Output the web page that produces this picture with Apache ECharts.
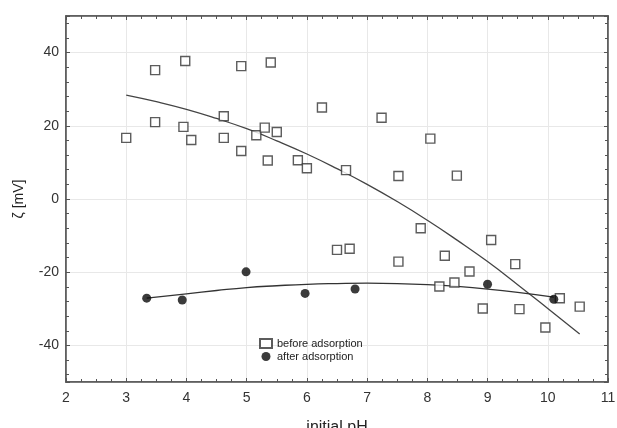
<!DOCTYPE html>
<html>
<head>
<meta charset="utf-8">
<script src="https://cdn.jsdelivr.net/npm/echarts@6/dist/echarts.min.js"></script>
<style>
html,body{margin:0;padding:0;background:#fff;}
#chart{width:617px;height:428px;}
</style>
</head>
<body>
<div id="chart"></div>
<script>
// before adsorption: [initial pH, zeta mV]
const beforeX = [3.0,3.48,3.48,3.98,3.95,4.08,4.91,4.62,4.62,4.91,5.40,5.16,5.30,5.50,5.35,5.85,6.0,6.25,6.65,
                 7.24,8.05,7.52,8.49,6.50,6.71,7.52,7.89,8.29,9.06,8.70,9.46,8.20,8.45,8.92,9.53,10.20,10.53,9.96];
const beforeY = [16.7,35.2,21.0,37.7,19.7,16.1,36.3,16.7,22.6,13.1,37.3,17.4,19.5,18.3,10.5,10.6,8.4,25.0,7.9,
                 22.2,16.5,6.3,6.4,-13.9,-13.6,-17.1,-8.0,-15.5,-11.2,-19.8,-17.8,-23.9,-22.8,-29.9,-30.1,-27.1,-29.4,-35.1];
// after adsorption
const afterX = [3.34,3.93,4.99,5.97,6.80,9.00,10.10];
const afterY = [-27.1,-27.6,-19.9,-25.8,-24.6,-23.3,-27.4];
// fitted curves
const beforeFitX = [3.0,3.5,4.0,4.5,5.0,5.5,6.0,6.5,7.0,7.5,8.0,8.5,9.0,9.5,10.0,10.53];
const beforeFitY = [28.4,26.6,24.5,22.0,19.2,15.9,12.3,8.3,4.0,-0.7,-5.8,-11.3,-17.1,-23.4,-29.9,-36.9];
const afterFitX = [3.34,4.0,4.5,5.0,5.5,6.0,6.5,7.0,7.5,8.0,8.5,9.0,9.5,10.1];
const afterFitY = [-27.1,-25.9,-25.0,-24.2,-23.7,-23.3,-23.1,-23.0,-23.1,-23.4,-23.9,-24.6,-25.5,-26.8];
const xTicks = {min:2, max:11, interval:1};
const yRange = {min:-50, max:50};
const legendNames = ['before adsorption','after adsorption'];

const zip = (a,b) => a.map((v,i)=>[v,b[i]]);
const font = 'Liberation Sans, Arial, sans-serif';
const axisCol = '#555';
const chart = echarts.init(document.getElementById('chart'));
const commonX = {
  type:'value', min:xTicks.min, max:xTicks.max, interval:xTicks.interval,
  axisLine:{show:true, onZero:false, lineStyle:{color:axisCol, width:1.5}},
  axisTick:{show:true, inside:true, length:4, lineStyle:{color:axisCol}},
  minorTick:{show:true, splitNumber:4, length:3, lineStyle:{color:axisCol}},
};
const commonY = {
  type:'value', min:yRange.min, max:yRange.max, splitNumber:5, minInterval:20, maxInterval:20,
  axisLine:{show:true, onZero:false, lineStyle:{color:axisCol, width:1.5}},
  axisTick:{show:true, inside:true, length:4, lineStyle:{color:axisCol}},
  minorTick:{show:true, splitNumber:5, length:3, lineStyle:{color:axisCol}},
};
chart.setOption({
  animation:false,
  backgroundColor:'#fff',
  textStyle:{fontFamily:font},
  grid:{left:66, right:9, top:16, bottom:46, show:true, borderColor:axisCol, borderWidth:1.5,
        containLabel:false, outerBoundsMode:'none'},
  legend:{
    data:legendNames, orient:'vertical', left:254, top:333, itemGap:2,
    itemWidth:12, itemHeight:9,
    textStyle:{fontFamily:font, fontSize:11, color:'#222'}
  },
  xAxis:[
    Object.assign({}, commonX, {
      position:'bottom',
      name:'initial pH', nameLocation:'middle', nameGap:38,
      nameTextStyle:{fontFamily:font, fontSize:16, color:'#222'},
      axisLabel:{fontFamily:font, fontSize:14, color:'#333', margin:9},
      splitLine:{show:true, lineStyle:{color:'#e8e8e8', width:1}}
    }),
    Object.assign({}, commonX, {position:'top', axisLabel:{show:false}, splitLine:{show:false}})
  ],
  yAxis:[
    Object.assign({}, commonY, {
      position:'left',
      name:'ζ [mV]', nameLocation:'middle', nameGap:40,
      nameTextStyle:{fontFamily:font, fontSize:14, color:'#222'},
      axisLabel:{fontFamily:font, fontSize:14, color:'#333', margin:7, showMinLabel:false, showMaxLabel:false,
        formatter:v => (Math.abs(v) < 50 ? String(v) : '')},
      splitLine:{show:true, lineStyle:{color:'#e8e8e8', width:1}}
    }),
    Object.assign({}, commonY, {position:'right', axisLabel:{show:false}, splitLine:{show:false}})
  ],
  series:[
    {name:legendNames[0], type:'scatter', data:zip(beforeX,beforeY), symbol:'rect', symbolSize:9,
     itemStyle:{color:'#fff', borderColor:'#333', borderWidth:1.4}, z:3},
    {name:legendNames[1], type:'scatter', data:zip(afterX,afterY), symbol:'circle', symbolSize:9,
     itemStyle:{color:'#0a0a0a'}, z:4},
    {name:'fit1', type:'line', data:zip(beforeFitX,beforeFitY), smooth:true, showSymbol:false, symbol:'none',
     lineStyle:{color:'#444', width:1.3}, z:2},
    {name:'fit2', type:'line', data:zip(afterFitX,afterFitY), smooth:true, showSymbol:false, symbol:'none',
     lineStyle:{color:'#333', width:1.3}, z:2}
  ]
});
</script>
</body>
</html>
